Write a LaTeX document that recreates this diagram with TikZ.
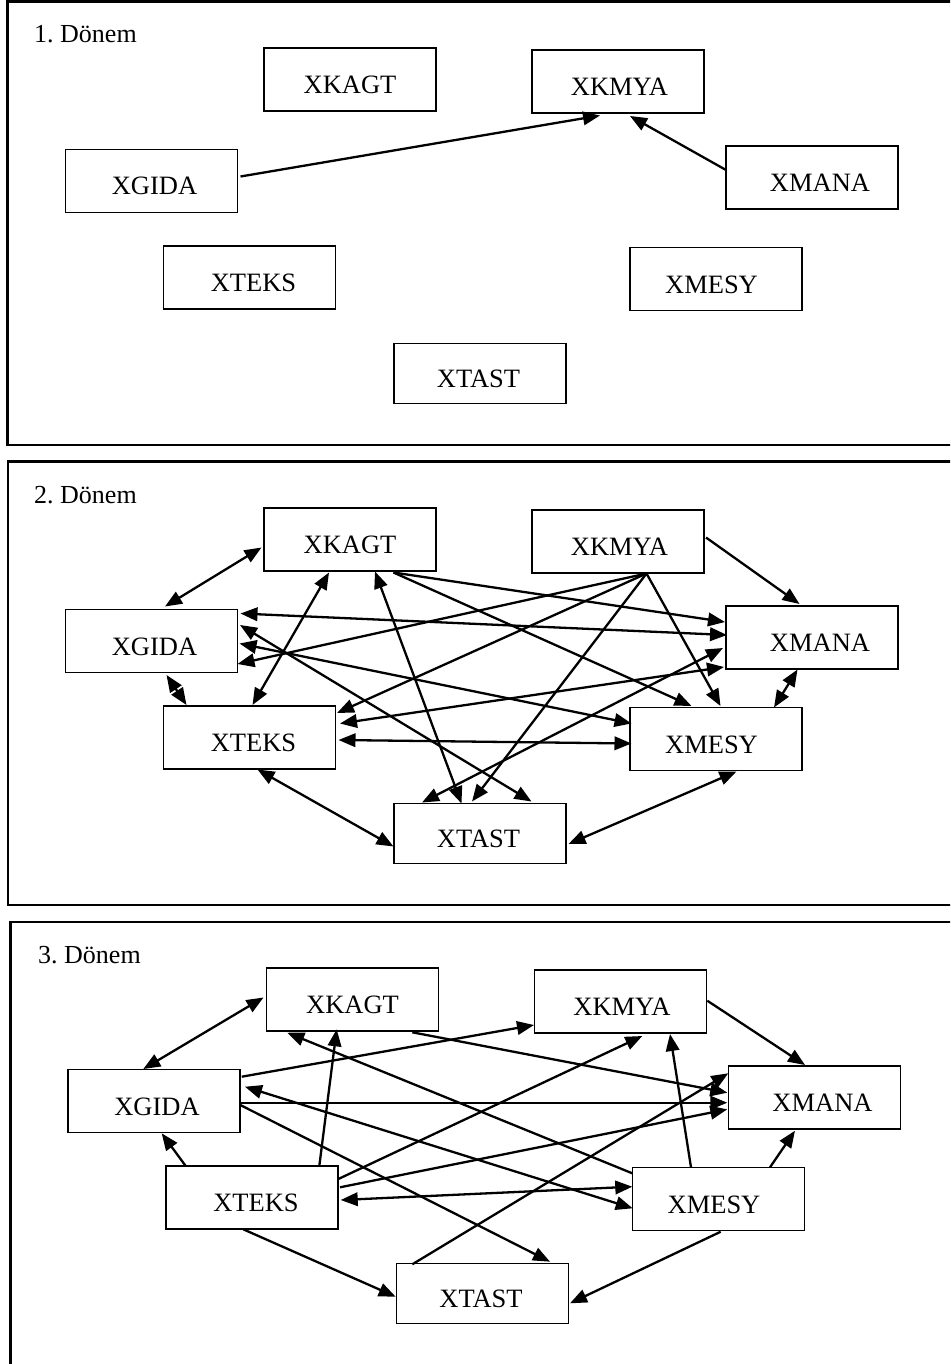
\documentclass[tikz,border=0pt]{standalone}
\usepackage{fontspec}
\setmainfont{Liberation Serif}
\usetikzlibrary{arrows.meta}
\frenchspacing

\tikzset{
  box/.style={draw, line width=1.1pt, minimum width=172pt, minimum height=63pt,
    inner sep=0pt, text height=28pt, text depth=0pt,
    font=\fontsize{26.5}{30}\selectfont},
  shortbox/.style={box, minimum height=59.5pt},
  frame/.style={line width=2.7pt},
  tag/.style={anchor=base west, inner sep=0pt, font=\fontsize{26}{30}\selectfont},
  wtip/.tip={Triangle[length=17pt,width=13.5pt]},
  arr/.style={line width=2.3pt, -{wtip}},
  darr/.style={line width=2.3pt, {wtip}-{wtip}},
}

% the seven sector boxes of one period, named <prefix>kagt, <prefix>kmya, ...
\newcommand\placeboxes[3]{%
  \begin{scope}[shift={(#2,#3)}]
    \node[box] (#1kagt) at (350,79.5) {XKAGT};
    \node[box] (#1kmya) at (618,81.5) {\hspace*{3pt}XKMYA};
    \node[box] (#1gida) at (151.5,181) {\hspace*{6pt}XGIDA};
    \node[box] (#1mana) at (812,177.5) {\hspace*{16pt}XMANA};
    \node[box] (#1teks) at (249.5,277.5) {\hspace*{8pt}XTEKS};
    \node[box] (#1mesy) at (716,279) {XMESY\hspace*{9pt}};
    \node[shortbox] (#1tast) at (480,373.5) {XTAST\hspace*{3pt}};
  \end{scope}}

% connector between two boxes, each end given as an offset from the box centre
\newcommand\joinbox[5]{\draw[#1] ([shift={#3}]#2.center) -- ([shift={#5}]#4.center);}

\begin{document}
\begin{tikzpicture}[x=1pt,y=-1pt]
\useasboundingbox (0,0) rectangle (950,1364);
\clip (0,0) rectangle (950,1364);

% period frames
\draw[frame] (7.5,1.5) rectangle (965,445);
\draw[frame] (8,461.5) rectangle (965,905);
\draw[frame] (10.5,922) rectangle (965,1380);

\node[tag] (t1) at (34,43) {1. Dönem};
\node[tag] (t2) at (34,503) {2. Dönem};
\node[tag] (t3) at (38,963) {3. Dönem};

\placeboxes{a}{0}{0}
\placeboxes{b}{0}{460}
\placeboxes{c}{2.5}{920}

% period 1
\joinbox{arr}{agida}{(89,-4.5)}{akmya}{(-18,34)}
\joinbox{arr}{amana}{(-86,-7.5)}{akmya}{(12,34.5)}

% period 2
\joinbox{darr}{bgida}{(13.5,-34.5)}{bkagt}{(-88.5,8)}
\joinbox{darr}{bgida}{(15,34)}{bteks}{(-63,-32.5)}
\joinbox{darr}{bkagt}{(-21,33)}{bteks}{(3,-32.5)}
\joinbox{darr}{bkagt}{(25,32)}{btast}{(-18.5,-30)}
\joinbox{darr}{bteks}{(8,32)}{btast}{(-86.5,13)}
\joinbox{darr}{bmesy}{(20.5,32.5)}{btast}{(88.5,10.5)}
\joinbox{darr}{bmana}{(-14.5,32)}{bmesy}{(58,-31.5)}
\joinbox{arr}{bkmya}{(88,-4)}{bmana}{(-12.5,-33.5)}
\joinbox{arr}{bkmya}{(28.5,32)}{bmesy}{(4.5,-33)}
\joinbox{arr}{bkmya}{(28.5,32)}{btast}{(-8,-32)}
\joinbox{arr}{bkmya}{(28.5,32)}{bgida}{(86,23)}
\joinbox{arr}{bkmya}{(28.5,32)}{bteks}{(87.5,-24.5)}
\joinbox{arr}{bkagt}{(43.5,33)}{bmana}{(-87,-15.5)}
\joinbox{arr}{bkagt}{(43.5,33)}{bmesy}{(-24.5,-33)}
\joinbox{darr}{bgida}{(89,-27.5)}{bmana}{(-85,-2.5)}
\joinbox{darr}{bgida}{(88.5,-16)}{btast}{(51.5,-32)}
\joinbox{darr}{bgida}{(88,2.5)}{bmesy}{(-84.5,-15.5)}
\joinbox{darr}{bteks}{(90.5,-14)}{bmana}{(-88,29.5)}
\joinbox{darr}{bteks}{(89,2.5)}{bmesy}{(-84.5,4.5)}
\joinbox{darr}{btast}{(-58,-31)}{bmana}{(-89,10.5)}

% period 3
\joinbox{darr}{cgida}{(-10.7,-32)}{ckagt}{(-89,-2)}
\joinbox{arr}{cteks}{(-66.3,-31.5)}{cgida}{(7.7,32.3)}
\joinbox{arr}{cteks}{(67.3,-31.5)}{ckagt}{(-15.8,29.8)}
\joinbox{arr}{cteks}{(-8.7,31.8)}{ctast}{(-86.8,3.2)}
\joinbox{arr}{cmesy}{(2.2,32.7)}{ctast}{(87.5,9.8)}
\joinbox{arr}{cmesy}{(51.5,-31.7)}{cmana}{(-19.5,33.2)}
\joinbox{arr}{cmesy}{(-27.5,-31.7)}{ckmya}{(49.5,32.5)}
\joinbox{arr}{ckmya}{(86.8,-0.8)}{cmana}{(-9.5,-32.5)}
\joinbox{arr}{cgida}{(87.7,-24.3)}{ckmya}{(-86.5,23.5)}
\joinbox{arr}{ckagt}{(59.8,32.8)}{cmana}{(-87.2,-4.8)}
\joinbox{arr}{cgida}{(86.3,1.7)}{cmana}{(-87.2,5.2)}
\joinbox{arr}{cmesy}{(-86.2,-25.7)}{ckagt}{(-65.2,33.2)}
\joinbox{darr}{cgida}{(91,-14.3)}{cmesy}{(-85.8,9.3)}
\joinbox{arr}{cgida}{(86.3,4)}{ctast}{(67.5,-31.8)}
\joinbox{arr}{cteks}{(85.7,-18.2)}{ckmya}{(21.8,34.5)}
\joinbox{arr}{cteks}{(88,-10.2)}{cmana}{(-87.2,11.8)}
\joinbox{darr}{cteks}{(88.7,2.5)}{cmesy}{(-86.2,-12.3)}
\joinbox{arr}{ctast}{(-70.2,-29.2)}{cmana}{(-86.2,-24.2)}
\end{tikzpicture}
\end{document}
